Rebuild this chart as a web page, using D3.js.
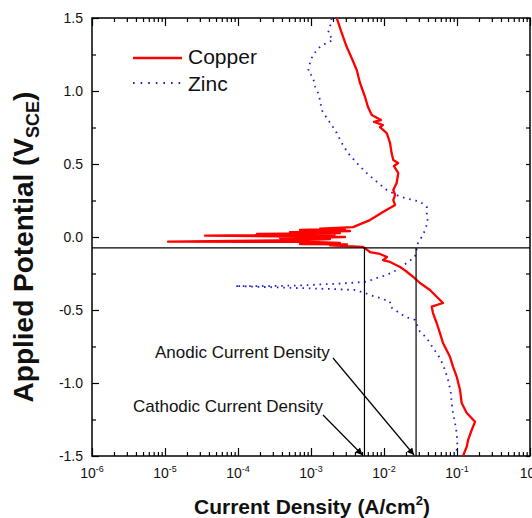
<!DOCTYPE html>
<html>
<head>
<meta charset="utf-8">
<script src="https://cdn.jsdelivr.net/npm/d3@7"></script>
<style>
body{margin:0;background:#fff;}
text{font-family:"Liberation Sans",Arial,sans-serif;fill:#111;}
.axis text{font-size:14px;}
.axis line{stroke:#000;stroke-width:1.2;}
.axis path{display:none;}
</style>
</head>
<body>
<div id="chart"></div>
<script>
// copper scan (current A/cm2, potential V)
const copperI = [2.25e-3,2.64e-3,3.08e-3,3.61e-3,4.23e-3,4.69e-3,5.50e-3,6.04e-3,6.79e-3,9.10e-3,7.30e-3,9.68e-3,8.81e-3,1.09e-2,1.21e-2,1.27e-2,1.34e-2,1.56e-2,1.37e-2,1.57e-2,1.49e-2,1.34e-2,1.42e-2,1.34e-2,1.42e-2,9.68e-3,6.43e-3,3.76e-3,
  1.33e-3,2.92e-3,7.06e-4,3.42e-3,5.15e-4,2.49e-3,1.82e-4,2.13e-3,3.53e-5,7.06e-4,2.92e-3,3.76e-4,1.82e-3,7.06e-4,1.10e-5,9.68e-4,2.49e-3,7.06e-4,3.11e-3,1.82e-3,5.15e-3,
  6.43e-3,8.81e-3,1.10e-2,9.68e-3,1.21e-2,1.66e-2,2.05e-2,2.49e-2,3.11e-2,4.26e-2,5.27e-2,6.43e-2,4.50e-2,4.69e-2,5.27e-2,5.84e-2,6.43e-2,8.01e-2,8.81e-2,9.91e-2,0.110,0.116,0.136,0.177,0.159,0.142,0.136,0.121];
const copperE = [1.50,1.397,1.303,1.226,1.144,1.055,0.959,0.890,0.836,0.801,0.788,0.767,0.753,0.712,0.644,0.575,0.527,0.507,0.486,0.438,0.370,0.322,0.288,0.253,0.219,0.171,0.116,0.068,
  0.058,0.055,0.048,0.041,0.034,0.027,0.021,0.017,0.009,0.003,0.000,-0.007,-0.014,-0.021,-0.032,-0.034,-0.041,-0.048,-0.051,-0.058,-0.068,
  -0.103,-0.116,-0.137,-0.158,-0.171,-0.205,-0.238,-0.272,-0.315,-0.363,-0.409,-0.452,-0.477,-0.521,-0.589,-0.658,-0.726,-0.820,-0.888,-0.957,-1.048,-1.137,-1.205,-1.265,-1.322,-1.390,-1.436,-1.500];

// zinc scan
const zincI = [1.92e-3,1.82e-3,1.71e-3,2.00e-3,1.64e-3,1.33e-3,1.06e-3,9.68e-4,9.10e-4,1.06e-3,1.14e-3,1.25e-3,1.33e-3,1.40e-3,1.64e-3,1.92e-3,2.25e-3,2.64e-3,3.21e-3,4.23e-3,
  5.79e-3,7.94e-3,1.09e-2,1.66e-2,2.49e-2,3.11e-2,3.85e-2,3.85e-2,3.97e-2,3.65e-2,3.42e-2,2.92e-2,2.66e-2,2.05e-2,1.49e-2,1.09e-2,7.94e-3,5.79e-3,3.42e-3,1.82e-3,
  7.06e-4,2.74e-4,9.10e-5,3.76e-4,1.82e-3,4.01e-3,5.50e-3,6.43e-3,8.81e-3,1.21e-2,1.21e-2,1.94e-2,2.66e-2,3.11e-2,3.85e-2,4.69e-2,5.84e-2,6.86e-2,7.54e-2,8.20e-2,
  8.45e-2,8.81e-2,9.40e-2,9.91e-2,0.101,0.097];
const zincE = [1.498,1.440,1.397,1.349,1.329,1.303,1.247,1.192,1.132,1.098,1.029,0.986,0.938,0.870,0.815,0.767,0.712,0.644,0.575,0.507,
  0.438,0.379,0.322,0.276,0.253,0.242,0.208,0.164,0.105,0.048,0.014,-0.041,-0.135,-0.178,-0.226,-0.260,-0.281,-0.306,-0.315,-0.322,
  -0.332,-0.336,-0.336,-0.346,-0.356,-0.363,-0.384,-0.397,-0.418,-0.443,-0.477,-0.546,-0.568,-0.649,-0.692,-0.760,-0.829,-0.911,-0.979,-1.060,
  -1.137,-1.205,-1.274,-1.342,-1.411,-1.500];

const xTickExp = [-6,-5,-4,-3,-2,-1,0];
const yTicks = [-1.5,-1.0,-0.5,0.0,0.5,1.0,1.5];
const yMinor = [-1.25,-0.75,-0.25,0.25,0.75,1.25];
const eCorr = -0.075, iCathodic = 5.4e-3, iAnodic = 2.75e-2;
const seriesNames = ["Copper","Zinc"];
const noteLabels = ["Anodic Current Density","Cathodic Current Density"];

let W = 532, H = 518;
let margin = {top:18, left:92, right:2, bottom:62};
let width = W - margin.left - margin.right, height = H - margin.top - margin.bottom;

var x = d3.scaleLog().domain([1e-6, 1]).range([0, width]),
    y = d3.scaleLinear().domain([-1.5, 1.5]).range([height, 0]);

let svg = d3.select('#chart').append('svg').attr('width', W).attr('height', H)
  .append('g').attr('transform', 'translate(' + margin.left + ',' + margin.top + ')');

svg.append('clipPath').attr('id', 'clip').append('rect').attr('width', width).attr('height', height);

let majors = xTickExp.map(e => Math.pow(10, e));
let minors = x.ticks().filter(t => Math.abs(Math.log10(t) - Math.round(Math.log10(t))) > 1e-6);

// ticks inward, bottom / top
svg.append('g').attr('class','axis').attr('transform','translate(0,' + height + ')')
  .call(d3.axisBottom(x).tickValues(minors).tickSize(-4).tickSizeOuter(0).tickFormat(''));
svg.append('g').attr('class','axis').attr('transform','translate(0,' + height + ')')
  .call(d3.axisBottom(x).tickValues(majors).tickSize(-8).tickSizeOuter(0).tickFormat(''));
svg.append('g').attr('class','axis')
  .call(d3.axisTop(x).tickValues(minors).tickSize(-4).tickSizeOuter(0).tickFormat(''));
svg.append('g').attr('class','axis')
  .call(d3.axisTop(x).tickValues(majors).tickSize(-8).tickSizeOuter(0).tickFormat(''));

// left / right
svg.append('g').attr('class','axis')
  .call(d3.axisLeft(y).tickValues(yMinor).tickSize(-4).tickSizeOuter(0).tickFormat(''));
let yl = svg.append('g').attr('class','axis')
  .call(d3.axisLeft(y).tickValues(yTicks).tickSize(-7).tickSizeOuter(0).tickFormat(d3.format('.1f')));
yl.selectAll('text').attr('x', -9).text(d => d3.format('.1f')(d).replace('−', '-'));
svg.append('g').attr('class','axis').attr('transform','translate(' + width + ',0)')
  .call(d3.axisRight(y).tickValues(yMinor.concat(yTicks)).tickSize(-4).tickSizeOuter(0).tickFormat(''));

// x labels 10^n
let xl = svg.append('g');
xTickExp.forEach(function(e){
  let t = xl.append('text').attr('x', x(Math.pow(10, e))).attr('y', height + 22)
    .attr('text-anchor', 'middle').style('font-size', '14px');
  t.append('tspan').text('10');
  t.append('tspan').attr('dy', -6).style('font-size', '9px').text(e);
});

// frame
svg.append('rect').attr('width', width).attr('height', height)
  .attr('fill', 'none').attr('stroke', '#000').attr('stroke-width', 1.5);

var line = d3.line().x(d => x(d[0])).y(d => y(d[1]));

let zinc = zincI.map((v, i) => [v, zincE[i]]);
let copper = copperI.map((v, i) => [v, copperE[i]]);

svg.append('path').datum(zinc).attr('clip-path', 'url(#clip)')
  .attr('d', line).attr('fill', 'none').attr('stroke', '#2020c8')
  .attr('stroke-width', 1.8).attr('stroke-dasharray', '1.6,4.8');

svg.append('path').datum(copper).attr('clip-path', 'url(#clip)')
  .attr('d', line).attr('fill', 'none').attr('stroke', '#ff0000')
  .attr('stroke-width', 2.3).attr('stroke-linejoin', 'round');

// corrosion potential + current density lines
svg.append('line').attr('x1', 0).attr('x2', width).attr('y1', y(eCorr)).attr('y2', y(eCorr))
  .attr('stroke', '#000').attr('stroke-width', 1.3);
[iCathodic, iAnodic].forEach(function(v){
  svg.append('line').attr('x1', x(v)).attr('x2', x(v)).attr('y1', y(eCorr)).attr('y2', height)
    .attr('stroke', '#000').attr('stroke-width', 1.2);
});

// arrows
svg.append('defs').append('marker').attr('id', 'arr').attr('viewBox', '0 0 10 10')
  .attr('refX', 10).attr('refY', 5).attr('markerWidth', 9).attr('markerHeight', 7)
  .attr('markerUnits', 'userSpaceOnUse').attr('orient', 'auto')
  .append('path').attr('d', 'M0,0L10,5L0,10z').attr('fill', '#000');

svg.append('text').attr('x', 63).attr('y', 340).style('font-size', '17px').text(noteLabels[0]);
svg.append('text').attr('x', 41).attr('y', 394).style('font-size', '17px').text(noteLabels[1]);
svg.append('line').attr('x1', 241).attr('y1', 340).attr('x2', x(iAnodic) - 2).attr('y2', height - 1)
  .attr('stroke', '#000').attr('stroke-width', 1.2).attr('marker-end', 'url(#arr)');
svg.append('line').attr('x1', 231).attr('y1', 397).attr('x2', x(iCathodic) - 2).attr('y2', height - 1)
  .attr('stroke', '#000').attr('stroke-width', 1.2).attr('marker-end', 'url(#arr)');

// legend
let lg = svg.append('g').attr('transform', 'translate(41,40)');
lg.append('line').attr('x1', 0).attr('x2', 49).attr('y1', 0).attr('y2', 0)
  .attr('stroke', '#ff0000').attr('stroke-width', 2.3);
lg.append('line').attr('x1', 0).attr('x2', 49).attr('y1', 25).attr('y2', 25)
  .attr('stroke', '#2020c8').attr('stroke-width', 1.8).attr('stroke-dasharray', '1.6,6');
lg.append('text').attr('x', 55).attr('y', 6).style('font-size', '21px').text(seriesNames[0]);
lg.append('text').attr('x', 55).attr('y', 33).style('font-size', '21px').text(seriesNames[1]);

// axis titles
let xt = svg.append('text').attr('x', 220).attr('y', height + 58).attr('text-anchor', 'middle')
  .style('font-size', '21px').style('font-weight', 'bold');
xt.append('tspan').text('Current Density (A/cm');
xt.append('tspan').attr('dy', -9).style('font-size', '13px').text('2');
xt.append('tspan').attr('dy', 9).text(')');

let yt = svg.append('text').attr('transform', 'translate(-59,' + (height / 2 + 10) + ') rotate(-90)')
  .attr('text-anchor', 'middle').style('font-size', '28px').style('font-weight', 'bold');
yt.append('tspan').text('Applied Potential (V');
yt.append('tspan').attr('dy', 6).style('font-size', '18px').text('SCE');
yt.append('tspan').attr('dy', -6).text(')');
</script>
</body>
</html>
